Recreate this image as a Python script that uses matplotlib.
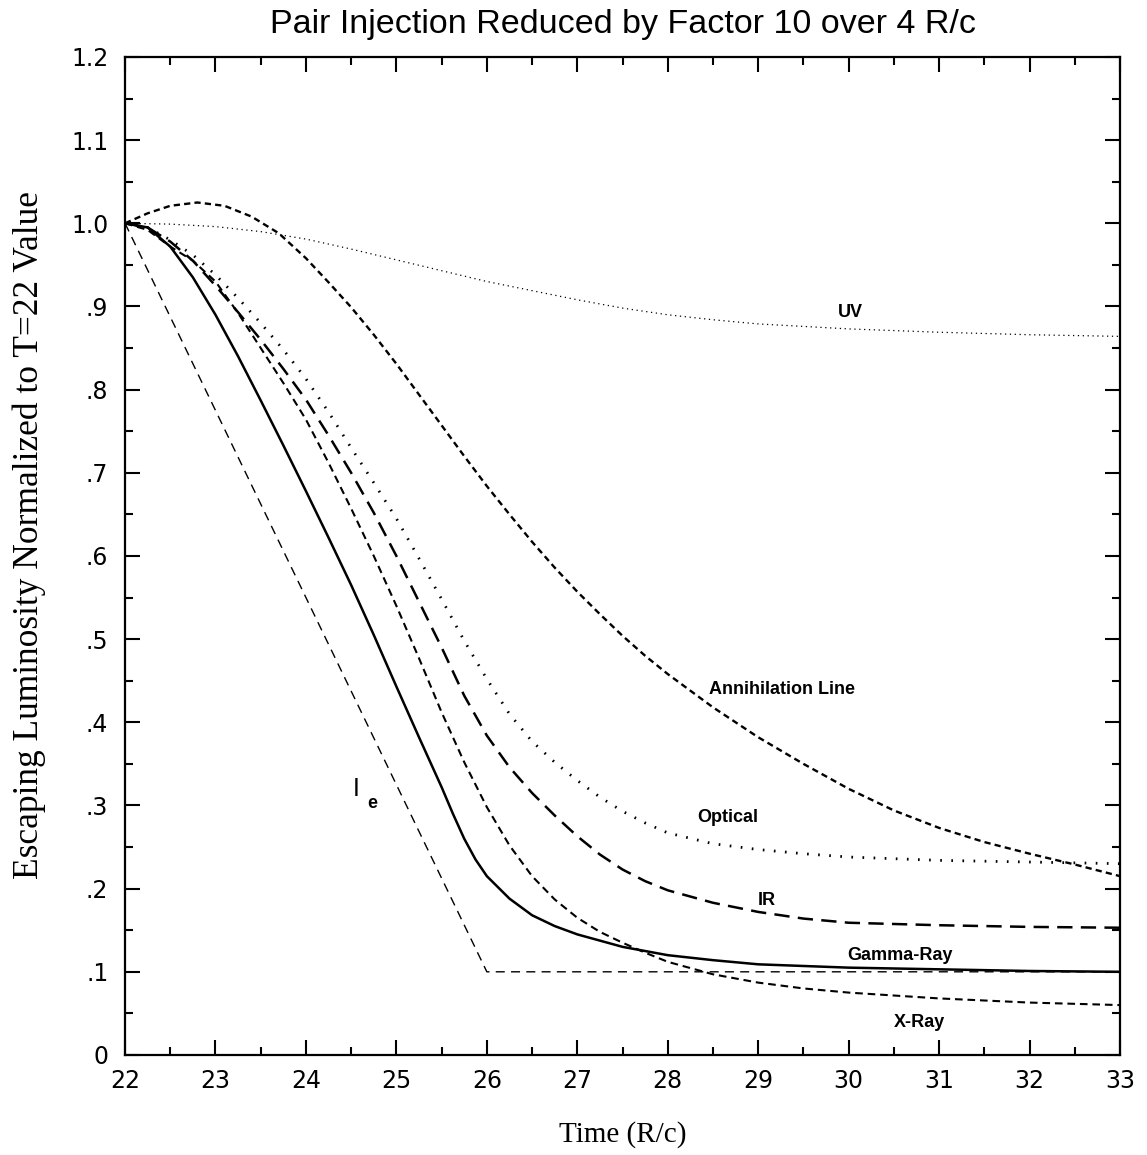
import matplotlib
matplotlib.use("Agg")
import matplotlib.pyplot as plt
import numpy as np

plt.rcParams['lines.scale_dashes'] = False

# --- data ---
t_ie = [22, 26, 33]
ie = [1.0, 0.1, 0.1]

t_gamma = [22, 22.25, 22.5, 22.75, 23, 23.25, 23.5, 23.75, 24, 24.25, 24.5, 24.75, 25, 25.25, 25.5, 25.625, 25.75,
           25.875, 26, 26.25, 26.5, 26.75, 27, 27.5, 28, 28.5, 29, 30, 31, 32, 33]
gamma = [1.0, 0.995, 0.972, 0.935, 0.89, 0.84, 0.787, 0.733, 0.678, 0.622, 0.565, 0.505, 0.443, 0.382, 0.322, 0.29, 0.26,
         0.235, 0.215, 0.188, 0.168, 0.155, 0.145, 0.13, 0.12, 0.114, 0.109, 0.105, 0.103, 0.101, 0.10]

t_xray = [22, 22.25, 22.5, 22.75, 23, 23.25, 23.5, 23.75, 24, 24.25, 24.5, 24.75, 25, 25.25, 25.5, 25.75, 26, 26.25,
          26.5, 26.75, 27, 27.25, 27.5, 27.75, 28, 28.5, 29, 29.5, 30, 31, 32, 33]
xray = [1.0, 0.992, 0.972, 0.955, 0.93, 0.892, 0.85, 0.808, 0.764, 0.712, 0.657, 0.6, 0.54, 0.477, 0.412, 0.352, 0.298, 0.252,
        0.215, 0.187, 0.165, 0.148, 0.135, 0.123, 0.112, 0.097, 0.087, 0.08, 0.075, 0.068, 0.063, 0.06]

t_ir = [22, 22.25, 22.5, 22.75, 23, 23.25, 23.5, 23.75, 24, 24.25, 24.5, 24.75, 25, 25.25, 25.5, 25.75, 26, 26.25, 26.5,
        26.75, 27, 27.25, 27.5, 27.75, 28, 28.5, 29, 29.5, 30, 31, 32, 33]
ir = [1.0, 0.995, 0.978, 0.955, 0.925, 0.893, 0.86, 0.825, 0.788, 0.745, 0.70, 0.652, 0.60, 0.545, 0.49, 0.432, 0.384,
      0.346, 0.315, 0.288, 0.263, 0.241, 0.223, 0.209, 0.198, 0.183, 0.172, 0.164, 0.159, 0.156, 0.154, 0.153]

t_opt = [22, 22.25, 22.5, 22.75, 23, 23.25, 23.5, 23.75, 24, 24.25, 24.5, 24.75, 25, 25.25, 25.5, 25.75, 26, 26.25,
         26.5, 26.75, 27, 27.25, 27.5, 27.75, 28, 28.5, 29, 29.5, 30, 31, 32, 33]
optical = [1.0, 0.995, 0.98, 0.962, 0.938, 0.91, 0.88, 0.848, 0.813, 0.773, 0.73, 0.688, 0.645, 0.597, 0.548, 0.498,
           0.452, 0.41, 0.377, 0.352, 0.33, 0.31, 0.293, 0.279, 0.267, 0.254, 0.247, 0.242, 0.238, 0.234, 0.232, 0.23]

t_uv = [22, 22.5, 23, 23.5, 24, 24.5, 25, 25.5, 26, 26.5, 27, 27.5, 28, 28.5, 29, 29.5, 30, 31, 32, 33]
uv = [1.0, 0.999, 0.996, 0.99, 0.981, 0.969, 0.956, 0.943, 0.93, 0.919, 0.908, 0.898, 0.89, 0.884, 0.879, 0.876, 0.873,
      0.869, 0.866, 0.864]

t_ann = [22, 22.25, 22.5, 22.8, 23.1, 23.4, 23.7, 24, 24.25, 24.5, 24.75, 25, 25.25, 25.5, 25.75, 26, 26.25, 26.5, 26.75,
         27, 27.25, 27.5, 27.75, 28, 28.5, 29, 29.5, 30, 30.5, 31, 31.5, 32, 32.5, 33]
ann = [1.0, 1.012, 1.021, 1.025, 1.021, 1.008, 0.988, 0.958, 0.929, 0.899, 0.866, 0.831, 0.794, 0.757, 0.72, 0.684, 0.65,
       0.617, 0.586, 0.557, 0.53, 0.504, 0.48, 0.458, 0.418, 0.382, 0.35, 0.32, 0.294, 0.273, 0.256, 0.242, 0.229, 0.215]

xticks = list(range(22, 34))
yticks = [0, 0.1, 0.2, 0.3, 0.4, 0.5, 0.6, 0.7, 0.8, 0.9, 1.0, 1.1, 1.2]
ylabels = ['0', '.1', '.2', '.3', '.4', '.5', '.6', '.7', '.8', '.9', '1.0', '1.1', '1.2']

fig = plt.figure(figsize=(11.47, 11.55), dpi=100)
ax = fig.add_axes([0.109, 0.0866, 0.8675, 0.8641])

ax.plot(t_ie, ie, color='black', lw=1.0, dashes=(6.5, 4.5))
ax.plot(t_gamma, gamma, color='black', lw=1.8)
ax.plot(t_xray, xray, color='black', lw=1.5, dashes=(5.5, 3.5))
ax.plot(t_ir, ir, color='black', lw=1.8, dashes=(11, 6))
ax.plot(t_opt, optical, color='black', lw=2.0, dashes=(1.2, 6.8))
ax.plot(t_uv, uv, color='black', lw=0.9, dashes=(0.9, 2.6))
ax.plot(t_ann, ann, color='black', lw=1.7, dashes=(4.5, 3))

ax.set_xlim(22, 33)
ax.set_ylim(0, 1.2)
ax.set_xticks(xticks)
ax.set_xticklabels([str(v) for v in xticks])
ax.set_yticks(yticks)
ax.set_yticklabels(ylabels)
ax.set_xticks(np.arange(22.5, 33, 1.0), minor=True)
ax.set_yticks(np.arange(0.05, 1.2, 0.1), minor=True)
ax.tick_params(which='both', direction='in', top=True, right=True, width=1.5)
ax.tick_params(which='major', length=11)
ax.tick_params(which='minor', length=6)
ax.tick_params(axis='y', which='major', pad=12, labelsize=17)
ax.tick_params(axis='x', which='major', pad=10, labelsize=17)
for s in ax.spines.values():
    s.set_linewidth(1.6)

ax.set_xlabel('Time (R/c)', family='Liberation Serif', fontsize=21, labelpad=20)
ax.set_ylabel('Escaping Luminosity Normalized to T=22 Value', family='Liberation Serif', fontsize=25.5)
ax.yaxis.set_label_coords(-0.079, 0.521)
ax.set_title('Pair Injection Reduced by Factor 10 over 4 R/c', family='Liberation Sans', fontsize=24.5, pad=17)

lab = dict(family='Liberation Sans', fontsize=13, fontweight='bold', ha='center', va='center')
ax.text(30.02, 0.893, 'UV', **lab)
ax.text(29.26, 0.44, 'Annihilation Line', **lab)
ax.text(28.66, 0.285, 'Optical', **lab)
ax.text(29.09, 0.186, 'IR', **lab)
ax.text(30.57, 0.12, 'Gamma-Ray', **lab)
ax.text(30.78, 0.0385, 'X-Ray', **lab)
ax.text(24.56, 0.32, 'I', family='Liberation Sans', fontsize=18, ha='center', va='center')
ax.text(24.73, 0.302, 'e', family='Liberation Sans', fontsize=13, fontweight='bold', ha='center', va='center')

fig.savefig('out.png', dpi=100)
